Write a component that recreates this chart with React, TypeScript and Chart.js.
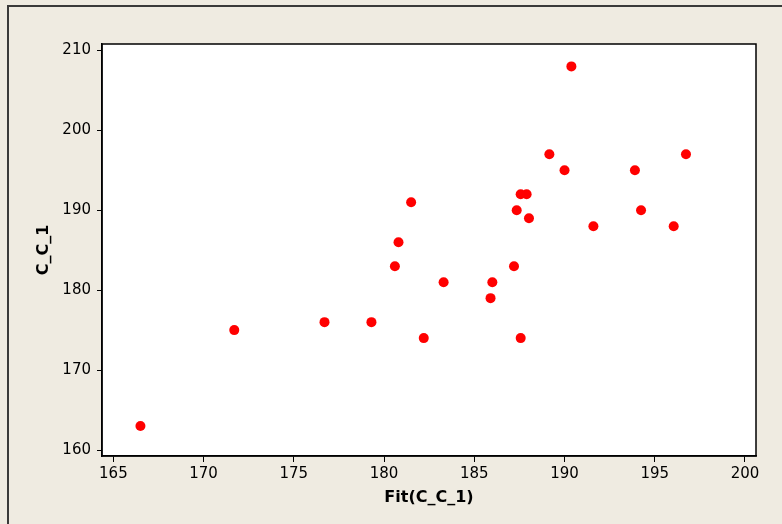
import React, { useEffect, useRef } from "react";
import { Chart, registerables } from "chart.js";

Chart.register(...registerables);

// Fitted values (x) and observed C_C_1 (y)
const fitValues = [
  166.5, 171.7, 176.7, 179.3, 180.6, 180.8, 181.5, 182.2, 183.3, 185.9,
  186.0, 187.2, 187.35, 187.57, 187.57, 187.9, 188.03, 189.16, 190.0, 190.38,
  191.6, 193.9, 194.24, 196.05, 196.73,
];
const observed = [
  163, 175, 176, 176, 183, 186, 191, 174, 181, 179,
  181, 183, 190, 192, 174, 192, 189, 197, 195, 208,
  188, 195, 190, 188, 197,
];

const xTicks = [165, 170, 175, 180, 185, 190, 195, 200];
const yTicks = [160, 170, 180, 190, 200, 210];

const xTitle = "Fit(C_C_1)";
const yTitle = "C_C_1";

const FONT = "'DejaVu Sans', Tahoma, sans-serif";

const plotFrame = {
  id: "plotFrame",
  beforeDraw(chart: any) {
    const { ctx, chartArea: a } = chart;
    ctx.save();
    ctx.fillStyle = "#ffffff";
    ctx.fillRect(a.left, a.top, a.right - a.left, a.bottom - a.top);
    ctx.restore();
  },
  afterDraw(chart: any) {
    const { ctx, chartArea: a } = chart;
    ctx.save();
    ctx.strokeStyle = "#000000";
    ctx.lineWidth = 1.5;
    ctx.strokeRect(a.left, a.top, a.right - a.left, a.bottom - a.top);
    ctx.restore();
  },
};

export default function App() {
  const canvasRef = useRef<HTMLCanvasElement | null>(null);

  useEffect(() => {
    if (!canvasRef.current) return;
    const points = fitValues.map((x, i) => ({ x, y: observed[i] }));
    const chart = new Chart(canvasRef.current, {
      type: "scatter",
      data: {
        datasets: [
          {
            data: points,
            backgroundColor: "#ff0000",
            borderColor: "#ff0000",
            pointRadius: 5,
            pointHoverRadius: 5,
            borderWidth: 0,
          },
        ],
      },
      options: {
        responsive: false,
        animation: false,
        layout: { padding: { left: 0, top: 44, right: 26, bottom: 0 } },
        plugins: {
          legend: { display: false },
          tooltip: { enabled: false },
        },
        scales: {
          x: {
            type: "linear",
            min: 164.37,
            max: 200.61,
            afterFit: (s: any) => {
              s.height = 68;
            },
            afterBuildTicks: (s: any) => {
              s.ticks = xTicks.map((v) => ({ value: v }));
            },
            grid: {
              drawOnChartArea: false,
              drawTicks: true,
              tickLength: 6,
              tickColor: "#000000",
              tickWidth: 1,
            },
            border: { display: true, color: "#000000", width: 1.5 },
            ticks: {
              color: "#000000",
              padding: 3,
              maxRotation: 0,
              autoSkip: false,
              font: { family: FONT, size: 15 },
            },
            title: {
              display: true,
              text: xTitle,
              color: "#000000",
              font: { family: FONT, size: 16, weight: "bold" },
              padding: { top: 0, bottom: 16.4 },
            },
          },
          y: {
            type: "linear",
            min: 159.25,
            max: 210.8,
            afterFit: (s: any) => {
              s.width = 102;
            },
            afterBuildTicks: (s: any) => {
              s.ticks = yTicks.map((v) => ({ value: v }));
            },
            grid: {
              drawOnChartArea: false,
              drawTicks: true,
              tickLength: 5,
              tickColor: "#000000",
              tickWidth: 1,
            },
            border: { display: true, color: "#000000", width: 1.5 },
            ticks: {
              color: "#000000",
              padding: 6,
              autoSkip: false,
              font: { family: FONT, size: 15 },
            },
            title: {
              display: true,
              text: yTitle,
              color: "#000000",
              font: { family: FONT, size: 16, weight: "bold" },
              padding: { top: 34.4, bottom: 0 },
            },
          },
        },
      },
      plugins: [plotFrame],
    });
    return () => chart.destroy();
  }, []);

  return (
    <div
      style={{
        position: "fixed",
        left: 0,
        top: 0,
        width: 782,
        height: 524,
        background: "#efebe1",
        overflow: "hidden",
      }}
    >
      <div
        style={{
          position: "absolute",
          left: 7,
          top: 5,
          right: 0,
          bottom: 0,
          borderLeft: "2px solid #3a3a3a",
          borderTop: "2px solid #3a3a3a",
        }}
      />
      <canvas
        ref={canvasRef}
        width={782}
        height={524}
        style={{ position: "absolute", left: 0, top: 0 }}
      />
    </div>
  );
}
